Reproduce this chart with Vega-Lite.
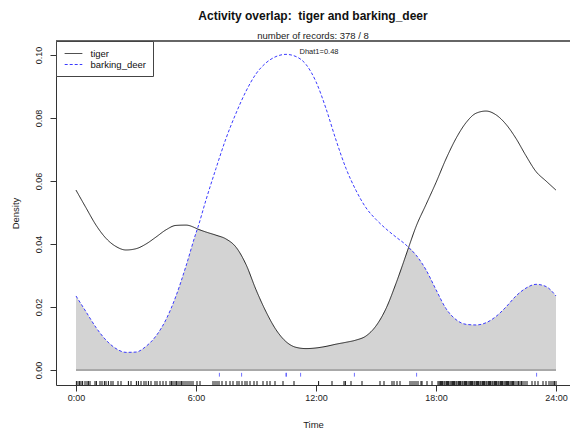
{
  "$schema": "https://vega.github.io/schema/vega-lite/v6.json",
  "width": 514,
  "height": 344,
  "autosize": {"type": "none"},
  "padding": {"left": 56, "top": 41, "right": 0, "bottom": 47},
  "background": "white",
  "config": {
    "font": "Liberation Sans",
    "view": {"stroke": null},
    "axis": {
      "grid": false,
      "domainColor": "#333333",
      "tickColor": "#333333",
      "tickSize": 6,
      "labelFontSize": 9,
      "labelColor": "#222222",
      "titleFontSize": 9.5,
      "titleFontWeight": "normal",
      "titleColor": "#222222"
    }
  },
  "title": {
    "text": "Activity overlap:\u00a0 tiger and barking_deer",
    "subtitle": "number of records: 378 / 8",
    "anchor": "middle",
    "fontSize": 12,
    "fontWeight": "bold",
    "color": "#111111",
    "subtitleFontSize": 9.5,
    "subtitleColor": "#222222",
    "subtitlePadding": 8,
    "offset": -1
  },
  "datasets": {
    "curves": [
      {"time": 0, "tiger": 0.0571, "barking_deer": 0.0235, "overlap": 0.0235},
      {"time": 0.5, "tiger": 0.0515, "barking_deer": 0.0185, "overlap": 0.0185},
      {"time": 1, "tiger": 0.0460, "barking_deer": 0.0135, "overlap": 0.0135},
      {"time": 1.5, "tiger": 0.0418, "barking_deer": 0.0095, "overlap": 0.0095},
      {"time": 2, "tiger": 0.0392, "barking_deer": 0.0068, "overlap": 0.0068},
      {"time": 2.5, "tiger": 0.0381, "barking_deer": 0.0056, "overlap": 0.0056},
      {"time": 3, "tiger": 0.0385, "barking_deer": 0.0057, "overlap": 0.0057},
      {"time": 3.5, "tiger": 0.0400, "barking_deer": 0.0075, "overlap": 0.0075},
      {"time": 4, "tiger": 0.0422, "barking_deer": 0.0108, "overlap": 0.0108},
      {"time": 4.5, "tiger": 0.0445, "barking_deer": 0.0160, "overlap": 0.0160},
      {"time": 5, "tiger": 0.0459, "barking_deer": 0.0235, "overlap": 0.0235},
      {"time": 5.5, "tiger": 0.0460, "barking_deer": 0.0330, "overlap": 0.0330},
      {"time": 6, "tiger": 0.0450, "barking_deer": 0.0435, "overlap": 0.0435},
      {"time": 6.07, "tiger": 0.0448, "barking_deer": 0.0448, "overlap": 0.0448},
      {"time": 6.5, "tiger": 0.0438, "barking_deer": 0.0540, "overlap": 0.0438},
      {"time": 7, "tiger": 0.0428, "barking_deer": 0.0640, "overlap": 0.0428},
      {"time": 7.5, "tiger": 0.0416, "barking_deer": 0.0735, "overlap": 0.0416},
      {"time": 8, "tiger": 0.0390, "barking_deer": 0.0815, "overlap": 0.0390},
      {"time": 8.5, "tiger": 0.0335, "barking_deer": 0.0885, "overlap": 0.0335},
      {"time": 9, "tiger": 0.0255, "barking_deer": 0.0940, "overlap": 0.0255},
      {"time": 9.5, "tiger": 0.0185, "barking_deer": 0.0975, "overlap": 0.0185},
      {"time": 10, "tiger": 0.0128, "barking_deer": 0.0995, "overlap": 0.0128},
      {"time": 10.5, "tiger": 0.0090, "barking_deer": 0.1002, "overlap": 0.0090},
      {"time": 11, "tiger": 0.0072, "barking_deer": 0.0995, "overlap": 0.0072},
      {"time": 11.5, "tiger": 0.0068, "barking_deer": 0.0970, "overlap": 0.0068},
      {"time": 12, "tiger": 0.0070, "barking_deer": 0.0915, "overlap": 0.0070},
      {"time": 12.5, "tiger": 0.0075, "barking_deer": 0.0830, "overlap": 0.0075},
      {"time": 13, "tiger": 0.0082, "barking_deer": 0.0730, "overlap": 0.0082},
      {"time": 13.5, "tiger": 0.0088, "barking_deer": 0.0640, "overlap": 0.0088},
      {"time": 14, "tiger": 0.0095, "barking_deer": 0.0570, "overlap": 0.0095},
      {"time": 14.5, "tiger": 0.0108, "barking_deer": 0.0515, "overlap": 0.0108},
      {"time": 15, "tiger": 0.0140, "barking_deer": 0.0478, "overlap": 0.0140},
      {"time": 15.5, "tiger": 0.0195, "barking_deer": 0.0448, "overlap": 0.0195},
      {"time": 16, "tiger": 0.0275, "barking_deer": 0.0422, "overlap": 0.0275},
      {"time": 16.5, "tiger": 0.0365, "barking_deer": 0.0397, "overlap": 0.0365},
      {"time": 16.63, "tiger": 0.0389, "barking_deer": 0.0389, "overlap": 0.0389},
      {"time": 17, "tiger": 0.0455, "barking_deer": 0.0365, "overlap": 0.0365},
      {"time": 17.5, "tiger": 0.0525, "barking_deer": 0.0318, "overlap": 0.0318},
      {"time": 18, "tiger": 0.0595, "barking_deer": 0.0255, "overlap": 0.0255},
      {"time": 18.5, "tiger": 0.0670, "barking_deer": 0.0195, "overlap": 0.0195},
      {"time": 19, "tiger": 0.0735, "barking_deer": 0.0160, "overlap": 0.0160},
      {"time": 19.5, "tiger": 0.0785, "barking_deer": 0.0145, "overlap": 0.0145},
      {"time": 20, "tiger": 0.0815, "barking_deer": 0.0143, "overlap": 0.0143},
      {"time": 20.5, "tiger": 0.0822, "barking_deer": 0.0150, "overlap": 0.0150},
      {"time": 21, "tiger": 0.0810, "barking_deer": 0.0170, "overlap": 0.0170},
      {"time": 21.5, "tiger": 0.0780, "barking_deer": 0.0200, "overlap": 0.0200},
      {"time": 22, "tiger": 0.0735, "barking_deer": 0.0235, "overlap": 0.0235},
      {"time": 22.5, "tiger": 0.0680, "barking_deer": 0.0260, "overlap": 0.0260},
      {"time": 23, "tiger": 0.0630, "barking_deer": 0.0272, "overlap": 0.0272},
      {"time": 23.5, "tiger": 0.0600, "barking_deer": 0.0265, "overlap": 0.0265},
      {"time": 24, "tiger": 0.0571, "barking_deer": 0.0235, "overlap": 0.0235}
    ],
    "rugTiger": [
      {"t": 0.02}, {"t": 0.1}, {"t": 0.18}, {"t": 0.25}, {"t": 0.33}, {"t": 0.45}, {"t": 0.55}, {"t": 0.62}, {"t": 0.7},
      {"t": 0.95}, {"t": 1.02}, {"t": 1.2}, {"t": 1.3}, {"t": 1.42}, {"t": 1.5}, {"t": 1.62}, {"t": 1.75}, {"t": 1.85},
      {"t": 2.1}, {"t": 2.25}, {"t": 2.62}, {"t": 2.75}, {"t": 3.02}, {"t": 3.12}, {"t": 3.25}, {"t": 3.4}, {"t": 3.5},
      {"t": 3.62}, {"t": 3.75}, {"t": 3.95}, {"t": 4.05}, {"t": 4.2}, {"t": 4.35}, {"t": 4.5}, {"t": 4.7}, {"t": 4.78},
      {"t": 4.85}, {"t": 4.95}, {"t": 5.02}, {"t": 5.1}, {"t": 5.2}, {"t": 5.28}, {"t": 5.35}, {"t": 5.45}, {"t": 5.55},
      {"t": 5.65}, {"t": 5.75}, {"t": 5.85}, {"t": 6.05}, {"t": 6.2}, {"t": 6.85}, {"t": 6.95}, {"t": 7.05}, {"t": 7.15},
      {"t": 7.3}, {"t": 7.5}, {"t": 7.7}, {"t": 7.85}, {"t": 8.05}, {"t": 8.15}, {"t": 8.3}, {"t": 8.45}, {"t": 8.55},
      {"t": 8.7}, {"t": 8.9}, {"t": 9.05}, {"t": 9.35}, {"t": 9.55}, {"t": 9.7}, {"t": 9.95}, {"t": 10.35}, {"t": 10.9},
      {"t": 12.13}, {"t": 12.8}, {"t": 13.4}, {"t": 13.47}, {"t": 13.75}, {"t": 14.3}, {"t": 15.2}, {"t": 15.4},
      {"t": 15.8}, {"t": 15.9}, {"t": 16.05}, {"t": 16.2}, {"t": 16.7}, {"t": 16.8}, {"t": 16.9}, {"t": 17.0},
      {"t": 17.1}, {"t": 17.25}, {"t": 17.3}, {"t": 17.55}, {"t": 17.8},
      {"t": 18.10}, {"t": 18.16}, {"t": 18.22}, {"t": 18.27}, {"t": 18.33}, {"t": 18.40}, {"t": 18.45}, {"t": 18.52},
      {"t": 18.58}, {"t": 18.63}, {"t": 18.70}, {"t": 18.76}, {"t": 18.82}, {"t": 18.88}, {"t": 18.93}, {"t": 19.00},
      {"t": 19.05}, {"t": 19.12}, {"t": 19.18}, {"t": 19.23}, {"t": 19.30}, {"t": 19.35}, {"t": 19.42}, {"t": 19.48},
      {"t": 19.53}, {"t": 19.60}, {"t": 19.66}, {"t": 19.72}, {"t": 19.78}, {"t": 19.83}, {"t": 19.90}, {"t": 19.95},
      {"t": 20.02}, {"t": 20.08}, {"t": 20.13}, {"t": 20.20}, {"t": 20.25}, {"t": 20.32}, {"t": 20.38}, {"t": 20.43},
      {"t": 20.50}, {"t": 20.55}, {"t": 20.62}, {"t": 20.68}, {"t": 20.73}, {"t": 20.80}, {"t": 20.85}, {"t": 20.92},
      {"t": 20.98}, {"t": 21.03}, {"t": 21.10}, {"t": 21.15}, {"t": 21.22}, {"t": 21.28}, {"t": 21.33}, {"t": 21.40},
      {"t": 21.46}, {"t": 21.52}, {"t": 21.58}, {"t": 21.63}, {"t": 21.70}, {"t": 21.76}, {"t": 21.82}, {"t": 21.88},
      {"t": 21.95}, {"t": 22.05}, {"t": 22.12}, {"t": 22.20}, {"t": 22.28}, {"t": 22.35}, {"t": 22.45}, {"t": 22.55},
      {"t": 22.8}, {"t": 22.95}, {"t": 23.1}, {"t": 23.35}, {"t": 23.5}, {"t": 23.65}, {"t": 23.75}, {"t": 23.85},
      {"t": 23.92}, {"t": 24.0}
    ],
    "rugDeer": [
      {"t": 7.17}, {"t": 8.28}, {"t": 10.5}, {"t": 10.52}, {"t": 11.23}, {"t": 13.92}, {"t": 17.03}, {"t": 23.03}
    ],
    "note": [{"label": "Dhat1=0.48", "time": 12.15, "dens": 0.1008}]
  },
  "layer": [
    {
      "data": {"name": "curves"},
      "mark": {"type": "area", "interpolate": "monotone", "color": "#d3d3d3"},
      "encoding": {
        "x": {
          "field": "time", "type": "quantitative", "title": "Time",
          "scale": {"domain": [-1, 24.7], "nice": false, "zero": false},
          "axis": {
            "title": "Time",
            "values": [0, 6, 12, 18, 24],
            "labelExpr": "datum.value + ':00'",
            "labelPadding": 2,
            "titlePadding": 17,
            "labelFlush": false,
            "labelOverlap": false
          }
        },
        "y": {
          "field": "overlap", "type": "quantitative", "title": "Density",
          "scale": {"domain": [-0.00476, 0.10444], "nice": false, "zero": false},
          "axis": {
            "title": "Density",
            "values": [0, 0.02, 0.04, 0.06, 0.08, 0.1],
            "format": ".2f",
            "labelAngle": -90,
            "labelAlign": "center",
            "labelBaseline": "bottom",
            "labelPadding": 7,
            "titlePadding": 14,
            "labelFlush": false,
            "labelOverlap": false
          }
        }
      }
    },
    {
      "data": {"name": "curves"},
      "mark": {"type": "rule", "color": "#a8a8a8", "strokeWidth": 1},
      "encoding": {
        "x": {"datum": 0, "type": "quantitative", "title": "Time"},
        "x2": {"datum": 24},
        "y": {"datum": 0, "type": "quantitative", "title": "Density"}
      }
    },
    {
      "data": {"name": "curves"},
      "transform": [{"fold": ["tiger", "barking_deer"], "as": ["species", "density"]}],
      "mark": {"type": "line", "interpolate": "monotone", "strokeWidth": 1},
      "encoding": {
        "x": {"field": "time", "type": "quantitative", "title": "Time"},
        "y": {"field": "density", "type": "quantitative", "title": "Density"},
        "color": {
          "field": "species", "type": "nominal",
          "scale": {"domain": ["tiger", "barking_deer"], "range": ["#222222", "#3a3aff"]},
          "legend": {
            "title": null,
            "orient": "top-left",
            "offset": 0,
            "padding": 6.5,
            "strokeColor": "#444444",
            "fillColor": "white",
            "labelFontSize": 9.5,
            "labelColor": "#111111",
            "symbolType": "M-1.6,0L1.6,0",
            "symbolSize": 121,
            "symbolStrokeWidth": 1,
            "symbolOffset": 5,
            "rowPadding": 0,
            "labelOffset": 11
          }
        },
        "strokeDash": {
          "field": "species", "type": "nominal",
          "scale": {"domain": ["tiger", "barking_deer"], "range": [[1, 0], [3, 2]]}
        }
      }
    },
    {
      "data": {"name": "rugTiger"},
      "mark": {"type": "rule", "color": "#111111", "strokeWidth": 1},
      "encoding": {
        "x": {"field": "t", "type": "quantitative", "title": "Time"},
        "y": {"datum": -0.0035, "type": "quantitative", "title": "Density"},
        "y2": {"datum": -0.0048}
      }
    },
    {
      "data": {"name": "rugDeer"},
      "mark": {"type": "rule", "color": "#4a4aff", "strokeWidth": 0.8},
      "encoding": {
        "x": {"field": "t", "type": "quantitative", "title": "Time"},
        "y": {"datum": -0.0009, "type": "quantitative", "title": "Density"},
        "y2": {"datum": -0.0021}
      }
    },
    {
      "data": {"name": "curves"},
      "mark": {"type": "rule", "color": "#666666", "strokeWidth": 1},
      "encoding": {
        "y": {"datum": 0.10444, "type": "quantitative", "title": "Density"}
      }
    },
    {
      "data": {"name": "note"},
      "mark": {"type": "text", "fontSize": 7.5, "color": "#222222", "align": "center", "baseline": "middle"},
      "encoding": {
        "x": {"field": "time", "type": "quantitative", "title": "Time"},
        "y": {"field": "dens", "type": "quantitative", "title": "Density"},
        "text": {"field": "label"}
      }
    }
  ]
}
